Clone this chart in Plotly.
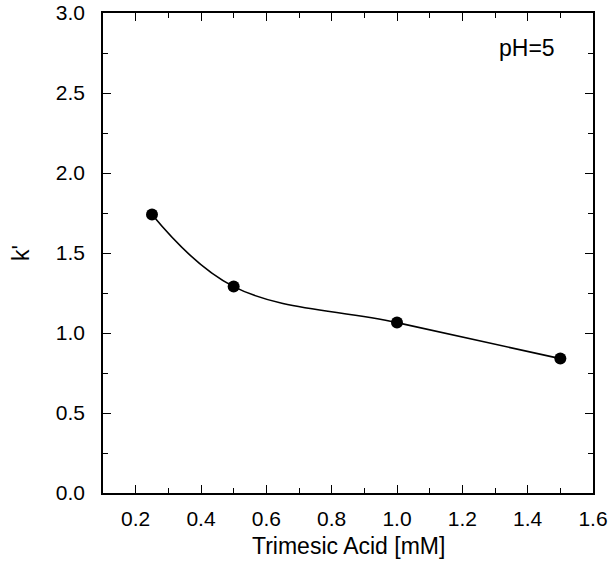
import plotly.graph_objects as go

acid_mM = [0.25, 0.5, 1.0, 1.5]
k_prime = [1.74, 1.29, 1.065, 0.84]
x_ticks = [0.2, 0.4, 0.6, 0.8, 1.0, 1.2, 1.4, 1.6]
y_ticks = [0.0, 0.5, 1.0, 1.5, 2.0, 2.5, 3.0]

fig = go.Figure()
fig.add_trace(go.Scatter(
    x=acid_mM, y=k_prime, mode="lines+markers",
    line=dict(color="black", width=1.6, shape="spline", smoothing=1.1),
    marker=dict(color="black", size=12),
    showlegend=False,
))

family = "Liberation Sans, Arial, Helvetica, sans-serif"
tick_font = dict(family=family, size=21, color="black")
title_font = dict(family=family, size=23, color="black")
axis_common = dict(
    showgrid=False, zeroline=False, showline=True, linecolor="black", linewidth=1.6,
    mirror="allticks", ticks="inside", ticklen=8, tickwidth=1.3, tickcolor="black",
    tickfont=tick_font, automargin=False, ticklabeloverflow="allow",
)
fig.update_xaxes(range=[0.1, 1.6], tickvals=x_ticks, ticktext=[f"{v:.1f}" for v in x_ticks],
                 minor=dict(dtick=0.1, ticks="inside", ticklen=5, tickcolor="black", tickwidth=1),
                 ticklabelstandoff=6, **axis_common)
fig.update_yaxes(range=[0, 3.0], tickvals=y_ticks, ticktext=[f"{v:.1f}" for v in y_ticks],
                 minor=dict(dtick=0.25, ticks="inside", ticklen=5, tickcolor="black", tickwidth=1),
                 ticklabelstandoff=12,
                 title=dict(text="k'", font=title_font, standoff=20), **axis_common)

fig.add_annotation(x=0.5, y=-0.11, xref="paper", yref="paper", text="Trimesic Acid [mM]",
                   showarrow=False, font=title_font, xanchor="center", yanchor="middle")
fig.add_annotation(x=0.865, y=0.928, xref="paper", yref="paper", text="pH=5",
                   showarrow=False, font=title_font, xanchor="center", yanchor="middle")

fig.update_layout(
    width=613, height=569,
    margin=dict(l=103, r=20, t=13, b=76),
    paper_bgcolor="white", plot_bgcolor="white",
)
fig.write_html("out.html", config={"displayModeBar": False},
               post_script="document.body.style.margin='0';")
